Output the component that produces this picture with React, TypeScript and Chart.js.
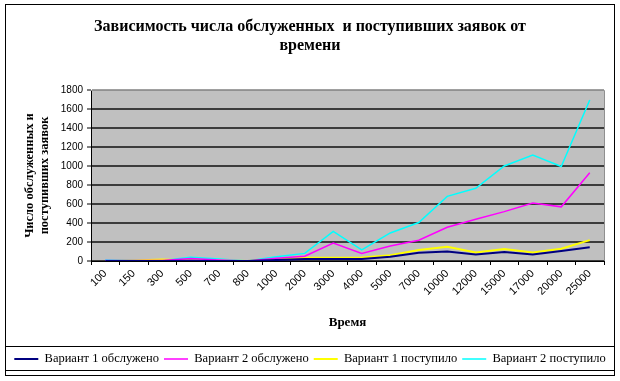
import { useEffect, useRef } from 'react';
import { Chart, registerables } from 'chart.js';

Chart.register(...registerables);

const categories = ['100', '150', '300', '500', '700', '800', '1000', '2000', '3000', '4000', '5000', '7000', '10000', '12000', '15000', '17000', '20000', '25000'];
const variant1Served = [0, 0, 0, 2, 0, 0, 10, 20, 20, 20, 45, 88, 100, 68, 95, 68, 105, 145];
const variant2Served = [5, 5, 5, 25, 10, 0, 30, 50, 190, 80, 158, 218, 355, 440, 520, 610, 570, 930];
const variant1Arrived = [0, 5, 15, 5, 5, 0, 15, 35, 35, 36, 60, 115, 150, 90, 125, 90, 130, 220];
const variant2Arrived = [10, 8, 5, 40, 20, 0, 45, 80, 312, 116, 295, 405, 680, 765, 1000, 1115, 995, 1695];

const seriesNames = ['Вариант 1 обслужено', 'Вариант 2 обслужено', 'Вариант 1 поступило', 'Вариант 2 поступило'];
const titleLines = ['Зависимость числа обслуженных  и поступивших заявок от', 'времени'];
const yTitleLines = ['Число обслуженных и', 'поступивших заявок'];
const xTitle = 'Время';
const yMin = 0;
const yMax = 1800;
const yStep = 200;

const SERIF = '"Liberation Serif", "Times New Roman", serif';
const SANS = '"Liberation Sans", Arial, sans-serif';

const framePlugin = {
  id: 'frame',
  beforeDraw(chart: any) {
    const { ctx, chartArea } = chart;
    ctx.save();
    ctx.fillStyle = '#ffffff';
    ctx.fillRect(0, 0, chart.width, chart.height);
    ctx.fillStyle = '#c0c0c0';
    ctx.fillRect(chartArea.left, chartArea.top, chartArea.right - chartArea.left, chartArea.bottom - chartArea.top);
    ctx.restore();
  },
  afterDraw(chart: any) {
    const { ctx, chartArea } = chart;
    ctx.save();
    ctx.strokeStyle = '#909090';
    ctx.lineWidth = 1;
    ctx.beginPath();
    ctx.moveTo(chartArea.left, chartArea.top + 0.5);
    ctx.lineTo(chartArea.right + 0.5, chartArea.top + 0.5);
    ctx.lineTo(chartArea.right + 0.5, chartArea.bottom);
    ctx.stroke();
    ctx.strokeStyle = '#000000';
    ctx.strokeRect(5.5, 4.5, 609, 371);
    ctx.strokeRect(5.5, 346.5, 609, 24);
    ctx.restore();
  },
};

export default function App() {
  const ref = useRef<HTMLCanvasElement>(null);

  useEffect(() => {
    document.body.style.margin = '0';
    const canvas = ref.current!;
    const chart = new Chart(canvas, {
      type: 'line',
      data: {
        labels: categories,
        datasets: [
          { label: seriesNames[0], data: variant1Served, borderColor: '#000080', backgroundColor: '#000080', borderWidth: 2 },
          { label: seriesNames[1], data: variant2Served, borderColor: '#ff00ff', backgroundColor: '#ff00ff', borderWidth: 1.5 },
          { label: seriesNames[2], data: variant1Arrived, borderColor: '#ffff00', backgroundColor: '#ffff00', borderWidth: 2 },
          { label: seriesNames[3], data: variant2Arrived, borderColor: '#00ffff', backgroundColor: '#00ffff', borderWidth: 1.5 },
        ],
      },
      options: {
        responsive: false,
        animation: false,
        devicePixelRatio: 1,
        elements: { point: { radius: 0 }, line: { tension: 0 } },
        layout: { padding: { top: 0, left: 0, right: 0, bottom: 5.75 } },
        plugins: {
          title: {
            display: true,
            text: titleLines,
            color: '#000',
            font: { family: SERIF, size: 16, weight: 'bold', lineHeight: 19 / 16 },
            padding: { top: 17.5, bottom: 34.5 },
          },
          legend: {
            display: true,
            position: 'bottom',
            labels: {
              usePointStyle: true,
              pointStyle: 'line',
              pointStyleWidth: 24,
              padding: 5,
              color: '#000',
              font: { family: SERIF, size: 12.5 },
            },
          },
          tooltip: { enabled: false },
        },
        scales: {
          x: {
            type: 'category',
            offset: true,
            grid: { display: true, offset: true, drawOnChartArea: false, drawTicks: true, tickLength: 4, tickColor: '#000', color: '#000', lineWidth: 1 },
            border: { display: true, color: '#000', width: 1 },
            ticks: { autoSkip: false, minRotation: 45, maxRotation: 45, padding: 2, color: '#000', font: { family: SANS, size: 11 } },
            title: {
              display: true,
              text: xTitle,
              color: '#000',
              font: { family: SERIF, size: 13, weight: 'bold', lineHeight: 1.2 },
              padding: { top: 0, bottom: 16.95 },
            },
            afterFit: (s: any) => { s.height = 86.75; },
          },
          y: {
            min: yMin,
            max: yMax,
            ticks: {
              stepSize: yStep,
              padding: 4,
              color: '#000',
              font: { family: SANS, size: 10 },
              callback: (v: any) => String(v),
            },
            grid: {
              color: (c: any) => (c.tick && c.tick.value === yMax ? '#a0a0a0' : '#3c3c3c'),
              lineWidth: 2,
              drawTicks: true,
              tickLength: 4,
              tickColor: '#000',
              tickWidth: 1,
            },
            border: { display: true, color: '#000', width: 1 },
            title: {
              display: true,
              text: yTitleLines,
              color: '#000',
              font: { family: SERIF, size: 12.5, weight: 'bold', lineHeight: 1.2 },
              padding: { top: 22.5, bottom: 0 },
            },
            afterFit: (s: any) => { s.width = 91; },
          },
          yRight: {
            position: 'right',
            display: true,
            grid: { display: false, drawTicks: false },
            border: { display: false },
            ticks: { display: false },
            afterFit: (s: any) => { s.width = 16; },
          },
        },
      } as any,
      plugins: [framePlugin],
    });
    return () => chart.destroy();
  }, []);

  return <canvas ref={ref} width={620} height={381} style={{ display: 'block', width: 620, height: 381 }} />;
}
